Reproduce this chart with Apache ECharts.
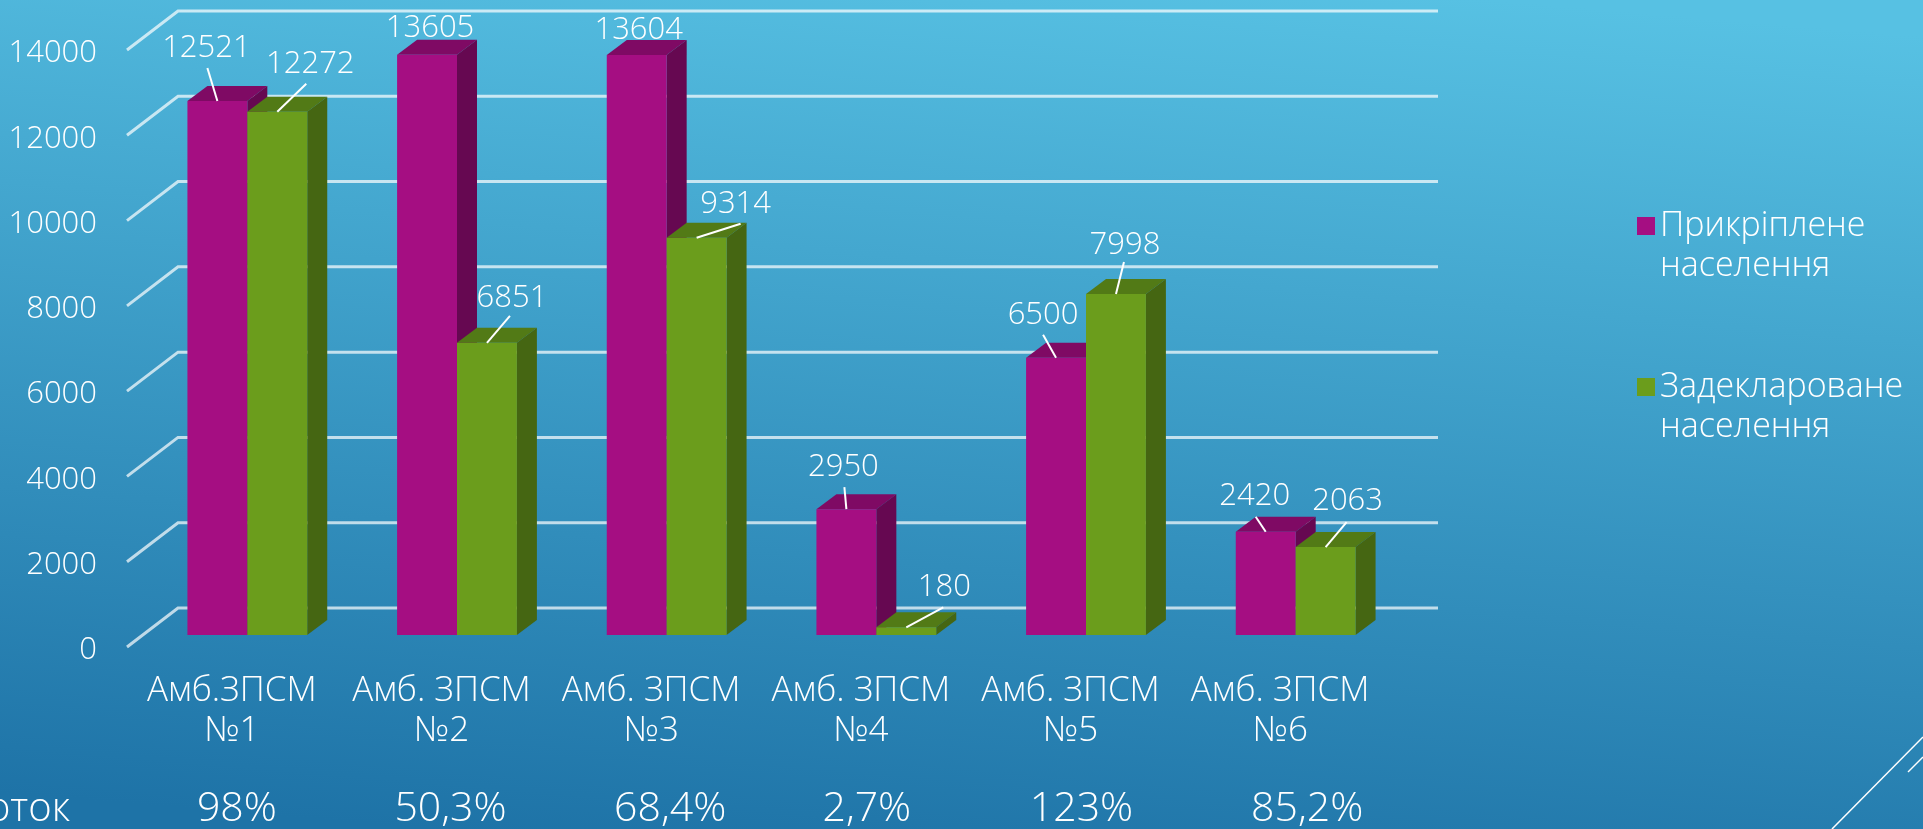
<!DOCTYPE html>
<html>
<head>
<meta charset="utf-8">
<style>html,body{margin:0;padding:0;overflow:hidden}#chart{width:1923px;height:829px}</style>
<script src="https://cdn.jsdelivr.net/npm/echarts@6/dist/echarts.min.js"></script>
</head>
<body>
<div id="chart"></div>
<script>
var categories = ['Амб.ЗПСМ\n№1', 'Амб. ЗПСМ\n№2', 'Амб. ЗПСМ\n№3', 'Амб. ЗПСМ\n№4', 'Амб. ЗПСМ\n№5', 'Амб. ЗПСМ\n№6'];
var attached = [12521, 13605, 13604, 2950, 6500, 2420];
var declared = [12272, 6851, 9314, 180, 7998, 2063];
var percents = ['98%', '50,3%', '68,4%', '2,7%', '123%', '85,2%'];
var valueTicks = [0, 2000, 4000, 6000, 8000, 10000, 12000, 14000];
var attachedName = 'Прикріплене\nнаселення';
var declaredName = 'Задекларовaне\nнаселення'.replace('a', 'а');

// hand placed labels in the slide: [label dx, label dy, leader dx, leader dy] from bar top
var attachedLabelPos = [[-11, -53, -10, -33], [3, -27], [2, -25], [-3, -42, -2, -22], [-13, -43, -13, -23], [-11, -36, -10, -15]];
var declaredLabelPos = [[33, -48, 29, -28], [25, -45, 23, -27], [39, -34, 44, -14], [38, -40, 37, -20], [9, -49, 8, -32], [22, -46, 21, -25]];
var percentShift = [5, 9, 19, 6, 11, 27];

var FONT = '"Open Sans", "Noto Sans", sans-serif';
var depthX = 20, depthY = 15;   // bar depth
var floorX = 15.5, floorY = 12; // bars stand in the middle of the floor
var wallX = 51, wallY = 39;     // full floor depth

function barSeries(name, values, colors, side) {
    return {
        name: name,
        type: 'custom',
        z: 3,
        clip: false,
        encode: {x: 0, y: 1},
        itemStyle: {color: colors[0]},
        data: values.map(function (v, i) { return [i, v]; }),
        renderItem: function (params, api) {
            var top = api.coord([api.value(0), api.value(1)]);
            var base = api.coord([api.value(0), 0]);
            var w = api.size([1, 0])[0] * 60 / 210;
            var x = top[0] + floorX + (side < 0 ? -w : 0);
            var y = top[1] - floorY;
            var y0 = base[1] - floorY;
            return {
                type: 'group',
                children: [
                    {type: 'polygon', shape: {points: [[x, y], [x + w, y], [x + w + depthX, y - depthY], [x + depthX, y - depthY]]}, style: {fill: colors[1]}},
                    {type: 'polygon', shape: {points: [[x + w, y], [x + w + depthX, y - depthY], [x + w + depthX, y0 - depthY], [x + w, y0]]}, style: {fill: colors[2]}},
                    {type: 'rect', shape: {x: x, y: y, width: w, height: y0 - y}, style: {fill: colors[0]}}
                ]
            };
        }
    };
}

function labelSeries(values, pos, side) {
    return {
        type: 'custom',
        z: 5,
        clip: false,
        silent: true,
        encode: {x: 0, y: 1},
        data: values.map(function (v, i) { return [i, v]; }),
        renderItem: function (params, api) {
            var i = api.value(0);
            var top = api.coord([i, api.value(1)]);
            var w = api.size([1, 0])[0] * 60 / 210;
            var ax = top[0] + floorX + side * w / 2;
            var ay = top[1] - floorY;
            var p = pos[i];
            var children = [{
                type: 'text',
                style: {x: ax + p[0], y: ay + p[1], text: String(api.value(1)), fill: '#fff', font: '300 31px ' + FONT, align: 'center', verticalAlign: 'middle'}
            }];
            if (p.length > 2) {
                children.push({type: 'line', shape: {x1: ax + p[2], y1: ay + p[3], x2: ax, y2: ay}, style: {stroke: '#fff', lineWidth: 2}});
            }
            return {type: 'group', children: children};
        }
    };
}

var chart = echarts.init(document.getElementById('chart'));

var option = {
    animation: false,
    backgroundColor: new echarts.graphic.LinearGradient(0.52, -0.05, 0.48, 1.05, [
        {offset: 0, color: '#57C1E3'},
        {offset: 1, color: '#1E73A7'}
    ]),
    textStyle: {fontFamily: FONT},
    grid: {left: 127, top: 50, width: 1258, height: 597},
    legend: {
        orient: 'vertical',
        left: 1632,
        top: 161,
        itemWidth: 18,
        itemHeight: 18,
        itemGap: 41,
        icon: 'rect',
        data: [attachedName, declaredName],
        // blank first line puts the marker next to the first text line
        formatter: function (name) { return '\n' + name; },
        textStyle: {color: '#fff', fontFamily: FONT, fontWeight: 300, fontSize: 34, lineHeight: 40}
    },
    xAxis: {
        type: 'category',
        data: categories,
        axisLine: {show: false},
        axisTick: {show: false},
        axisLabel: {interval: 0, color: '#fff', fontFamily: FONT, fontWeight: 300, fontSize: 35, lineHeight: 40, margin: 24}
    },
    yAxis: {
        type: 'value',
        min: 0,
        max: 14000,
        interval: 2000,
        axisLine: {show: false},
        axisTick: {show: false},
        splitLine: {show: false},
        axisLabel: {
            margin: 30,
            formatter: function (v) { return '{t|' + v + '}'; },
            // top padding moves the tick text a little below the tick
            rich: {t: {color: '#fff', fontFamily: FONT, fontWeight: 300, fontSize: 31, padding: [7, 0, 0, 0]}}
        }
    },
    graphic: [
        {type: 'line', silent: true, shape: {x1: 1832, y1: 829, x2: 1923, y2: 737}, style: {stroke: '#fff', lineWidth: 1.5}},
        {type: 'line', silent: true, shape: {x1: 1908, y1: 772, x2: 1923, y2: 757}, style: {stroke: '#fff', lineWidth: 1.5}},
        {type: 'text', silent: true, style: {x: 70, y: 810, text: 'Відсоток', fill: '#fff', font: '300 40px ' + FONT, align: 'right', verticalAlign: 'middle'}}
    ],
    series: [
        {
            type: 'custom',
            z: 1,
            clip: false,
            silent: true,
            encode: {x: 0, y: 1},
            data: valueTicks.map(function (v) { return [0, v]; }),
            renderItem: function (params, api) {
                var y = api.coord([0, api.value(1)])[1];
                var x = params.coordSys.x;
                var x1 = x + params.coordSys.width + wallX + 2;
                return {
                    type: 'polyline',
                    shape: {points: [[x, y], [x + wallX, y - wallY], [x1, y - wallY]]},
                    style: {fill: null, stroke: 'rgba(255,255,255,0.7)', lineWidth: 3}
                };
            }
        },
        barSeries(attachedName, attached, ['#A50E82', '#7F0A64', '#660851'], -1),
        barSeries(declaredName, declared, ['#6B9D1C', '#527A16', '#456612'], 1),
        labelSeries(attached, attachedLabelPos, -1),
        labelSeries(declared, declaredLabelPos, 1),
        {
            type: 'custom',
            z: 5,
            clip: false,
            silent: true,
            encode: {x: 0},
            data: percents.map(function (p, i) { return [i, p]; }),
            renderItem: function (params, api) {
                var i = params.dataIndex;
                return {
                    type: 'text',
                    style: {x: api.coord([i, 0])[0] + percentShift[i], y: 809, text: percents[i], fill: '#fff', font: '300 41px ' + FONT, align: 'center', verticalAlign: 'middle'}
                };
            }
        }
    ]
};

chart.setOption(option);
</script>
</body>
</html>
